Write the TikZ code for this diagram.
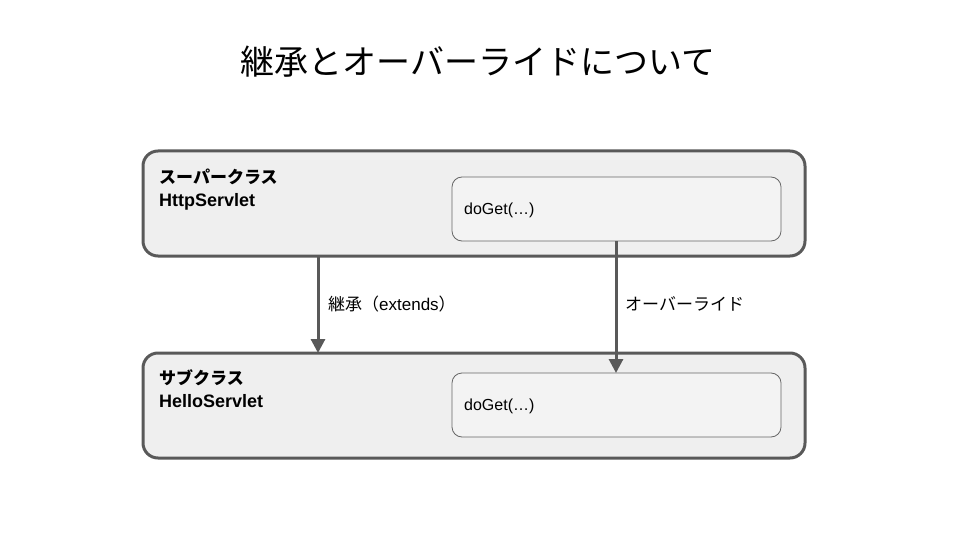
\documentclass[tikz,border=0pt]{standalone}
\usepackage{fontspec}
\setmainfont{Liberation Sans}
\newfontfamily\jp{Noto Sans CJK JP}
\usetikzlibrary{arrows.meta}
\definecolor{outerfill}{HTML}{EFEFEF}
\definecolor{outerdraw}{HTML}{595959}
\definecolor{innerfill}{HTML}{F3F3F3}
\definecolor{innerdraw}{HTML}{666666}
\begin{document}
\begin{tikzpicture}[x=1pt,y=-1pt,
  outerbox/.style={draw=outerdraw,fill=outerfill,line width=3pt,rounded corners=15pt},
  innerbox/.style={draw=innerdraw,fill=innerfill,line width=0.8pt,rounded corners=10pt},
  lbl/.style={inner sep=0pt,anchor=base west,font=\fontsize{17}{20}\selectfont},
  conn/.style={draw=outerdraw,line width=3pt,-{Triangle[length=14pt,width=14pt]}}]
\useasboundingbox (0,0) rectangle (960,540);
\node[inner sep=0pt,font=\jp\fontsize{34}{40}\selectfont] (title) at (478,62) {継承とオーバーライドについて};
% top box
\draw[outerbox] (143,151) rectangle (805,256);
\coordinate (topL) at (318,256);
\draw[innerbox] (452,177) rectangle (781,241);
\coordinate (topInner) at (616,241);
\node[lbl,font=\jp\bfseries\fontsize{17}{20}\selectfont] (super) at (159,183) {スーパークラス};
\node[lbl,font=\bfseries\fontsize{18}{21}\selectfont] (http) at (159,206) {HttpServlet};
\node[lbl,font=\fontsize{16}{19}\selectfont] (doget1) at (464,214) {doGet(…)};
% bottom box
\draw[outerbox] (143,353) rectangle (805,458);
\coordinate (botL) at (318,353);
\draw[innerbox] (452,373) rectangle (781,437);
\coordinate (botInner) at (616,373);
\node[lbl,font=\jp\bfseries\fontsize{17}{20}\selectfont] (sub) at (159,384) {サブクラス};
\node[lbl,font=\bfseries\fontsize{18}{21}\selectfont] (hello) at (159,407) {HelloServlet};
\node[lbl,font=\fontsize{16}{19}\selectfont] (doget2) at (464,410) {doGet(…)};
% connectors
\draw[conn] (topL) -- (botL);
\draw[conn] (topInner) -- (botInner);
\node[lbl] (ext) at (328,310) {{\jp 継承（}extends{\jp ）}};
\node[lbl,font=\jp\fontsize{17}{20}\selectfont] (ovr) at (625,310) {オーバーライド};
\end{tikzpicture}
\end{document}
